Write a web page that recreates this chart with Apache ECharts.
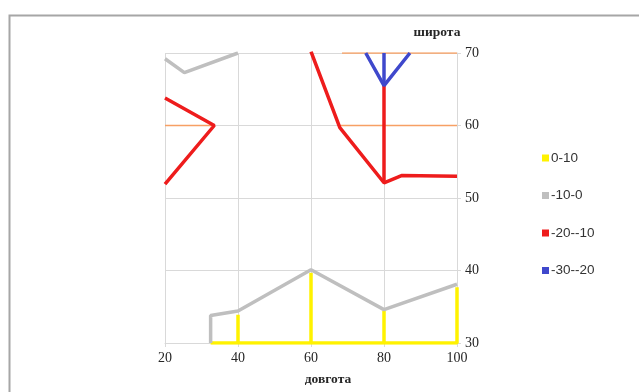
<!DOCTYPE html>
<html>
<head>
<meta charset="utf-8">
<script src="https://cdn.jsdelivr.net/npm/echarts@6/dist/echarts.min.js"></script>
<style>
  html, body { margin: 0; padding: 0; background: #fff; }
  #chart { width: 639px; height: 392px; }
</style>
</head>
<body>
<div id="chart"></div>
<script>
// Isotherm segments: [longitude, latitude]
const xTicks = [20, 40, 60, 80, 100];
const yTicks = [30, 40, 50, 60, 70];

const seriesNames = ['0-10', '-10-0', '-20--10', '-30--20'];

// 0-10
const band0to10 = [
  [[32.5, 30], [40, 30], [40, 33.9], [40, 30], [60, 30], [60, 39.7], [60, 30],
   [80, 30], [80, 34.4], [80, 30], [100, 30], [100, 37.7]]
];
// -10-0
const bandM10to0 = [
  [[20, 69.2], [25.3, 67.3], [40, 70]],
  [[32.5, 30], [32.5, 33.8], [40, 34.4], [60, 40.1], [80, 34.6], [100, 38.1]]
];
// -20--10
const bandM20toM10 = [
  [[20, 63.8], [33.5, 60], [20, 51.9]],
  [[60, 70.2], [67.9, 59.7], [80, 52.1], [84.8, 53.1], [100, 53]],
  [[80, 52.1], [80, 65.5]]
];
// -30--20
const bandM30toM20 = [
  [[75, 70], [80, 65.5], [87.1, 70]],
  [[80, 70], [80, 65.5]]
];
// thin boundary traces
const boundaryLines = [
  [[20, 60], [33.5, 60]],
  [[68, 60], [100, 60]],
  [[68.5, 70], [100, 70]]
];

const colors = {
  '0-10': '#fff200',
  '-10-0': '#bfbfbf',
  '-20--10': '#ee1c1c',
  '-30--20': '#3f48cc'
};

const groups = [
  ['0-10', band0to10],
  ['-10-0', bandM10to0],
  ['-20--10', bandM20toM10],
  ['-30--20', bandM30toM20]
];

const series = [];
boundaryLines.forEach(seg => {
  series.push({
    type: 'line', name: 'boundary', data: seg, showSymbol: false, silent: true,
    lineStyle: { width: 1.5, color: '#f7a064' }, z: 2
  });
});
groups.forEach(([name, segs]) => {
  segs.forEach(seg => {
    series.push({
      type: 'line', name: name, data: seg, showSymbol: false,
      itemStyle: { color: colors[name] },
      lineStyle: { width: 3.5, color: colors[name] }, z: 3
    });
  });
});

const chart = echarts.init(document.getElementById('chart'), null, { renderer: 'canvas' });
chart.setOption({
  animation: false,
  backgroundColor: '#ffffff',
  graphic: [{
    type: 'rect', left: 7, top: 13,
    shape: { width: 700, height: 500 },
    style: { fill: 'none', stroke: '#a6a6a6', lineWidth: 2 },
    z: 0
  }],
  grid: { left: 165, right: 182, top: 53, bottom: 49 },
  legend: {
    data: seriesNames,
    orient: 'vertical',
    left: 537, top: 146,
    itemWidth: 7, itemHeight: 7, itemGap: 23.5,
    icon: 'rect',
    textStyle: { fontFamily: 'Liberation Sans', fontSize: 13.5, color: '#333333', padding: [0, 0, 0, -3] }
  },
  xAxis: {
    type: 'value', min: 20, max: 100, interval: 20,
    name: 'довгота', nameLocation: 'middle', nameGap: 30,
    nameTextStyle: { fontFamily: 'Liberation Serif', fontSize: 13.5, fontWeight: 'bold', color: '#262626', padding: [0, 0, 0, 34] },
    axisLine: { show: true, lineStyle: { color: '#d9d9d9' } },
    axisTick: { show: true, length: 4, lineStyle: { color: '#d9d9d9' } },
    axisLabel: { margin: 8, fontFamily: 'Liberation Serif', fontSize: 14, color: '#262626' },
    splitLine: { show: true, lineStyle: { color: '#d9d9d9', width: 1 } }
  },
  yAxis: {
    type: 'value', position: 'right', min: 30, max: 70, interval: 10,
    name: 'широта', nameLocation: 'end', nameGap: 13,
    nameTextStyle: { fontFamily: 'Liberation Serif', fontSize: 13.5, fontWeight: 'bold', color: '#262626', padding: [0, 40, 0, 0] },
    axisLine: { show: true, lineStyle: { color: '#d9d9d9' } },
    axisTick: { show: true, length: 4, lineStyle: { color: '#d9d9d9' } },
    axisLabel: { margin: 8, fontFamily: 'Liberation Serif', fontSize: 14, color: '#262626' },
    splitLine: { show: true, lineStyle: { color: '#d9d9d9', width: 1 } }
  },
  series: series
});
</script>
</body>
</html>
